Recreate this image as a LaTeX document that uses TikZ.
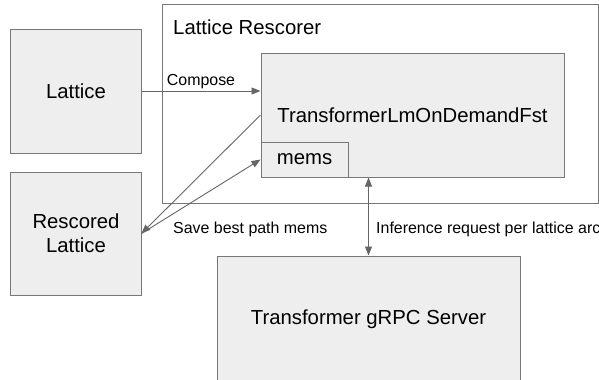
\documentclass[tikz,border=0pt]{standalone}
\usepackage{fontspec}
\setmainfont{Liberation Sans}
\usetikzlibrary{arrows.meta}

\definecolor{boxfill}{HTML}{EEEEEE}
\definecolor{boxline}{HTML}{777777}
\definecolor{arrline}{HTML}{666666}

\tikzset{
  blk/.style={draw=boxline, fill=boxfill, line width=1bp, inner sep=0pt,
    font=\fontsize{20.4}{24.5}\selectfont, align=center},
  conn/.style={draw=arrline, line width=0.9bp,
    -{Triangle[length=9bp,width=7bp]}},
  lbl/.style={font=\fontsize{16}{19}\selectfont, inner sep=2bp},
}

\begin{document}
\begin{tikzpicture}[x=1bp,y=-1bp]
  \clip (0,0) rectangle (599,379);

  % outer rescorer frame
  \node[draw=boxline, fill=white, line width=1bp, minimum width=436bp,
    minimum height=199bp] (rescorer) at (380,103.5) {};
  \node[anchor=west, font=\fontsize{20.4}{24.5}\selectfont, inner sep=0pt]
    (rescorertitle) at (173,27) {Lattice Rescorer};

  % boxes
  \node[blk, minimum width=130bp, minimum height=124bp] (lattice) at (76,91) {Lattice};
  \node[blk, minimum width=130bp, minimum height=123bp] (rescored) at (76,233.5) {Rescored\\Lattice};
  \node[blk, minimum width=303bp, minimum height=124bp] (fst) at (412.5,115) {TransformerLmOnDemandFst};
  \node[blk, minimum width=87bp, minimum height=35bp] (mems) at (304.5,159.5) {mems};
  \node[blk, minimum width=303bp, minimum height=126bp] (server) at (368.5,319) {Transformer gRPC Server};

  % connectors
  \draw[conn] (lattice.east) -- node[lbl, above] {Compose} (lattice.east -| fst.west);
  \draw[conn] (fst.west) -- (rescored.east);
  \draw[conn] (rescored.east) -- (mems.west);
  \draw[conn, {Triangle[length=9bp,width=7bp]}-{Triangle[length=9bp,width=7bp]}]
    (server.north |- fst.south) -- (server.north);

  \node[lbl, anchor=west] (savelbl) at (171,229) {Save best path mems};
  \node[lbl, anchor=west] (inflbl) at (374,229) {Inference request per lattice arc};
\end{tikzpicture}
\end{document}
